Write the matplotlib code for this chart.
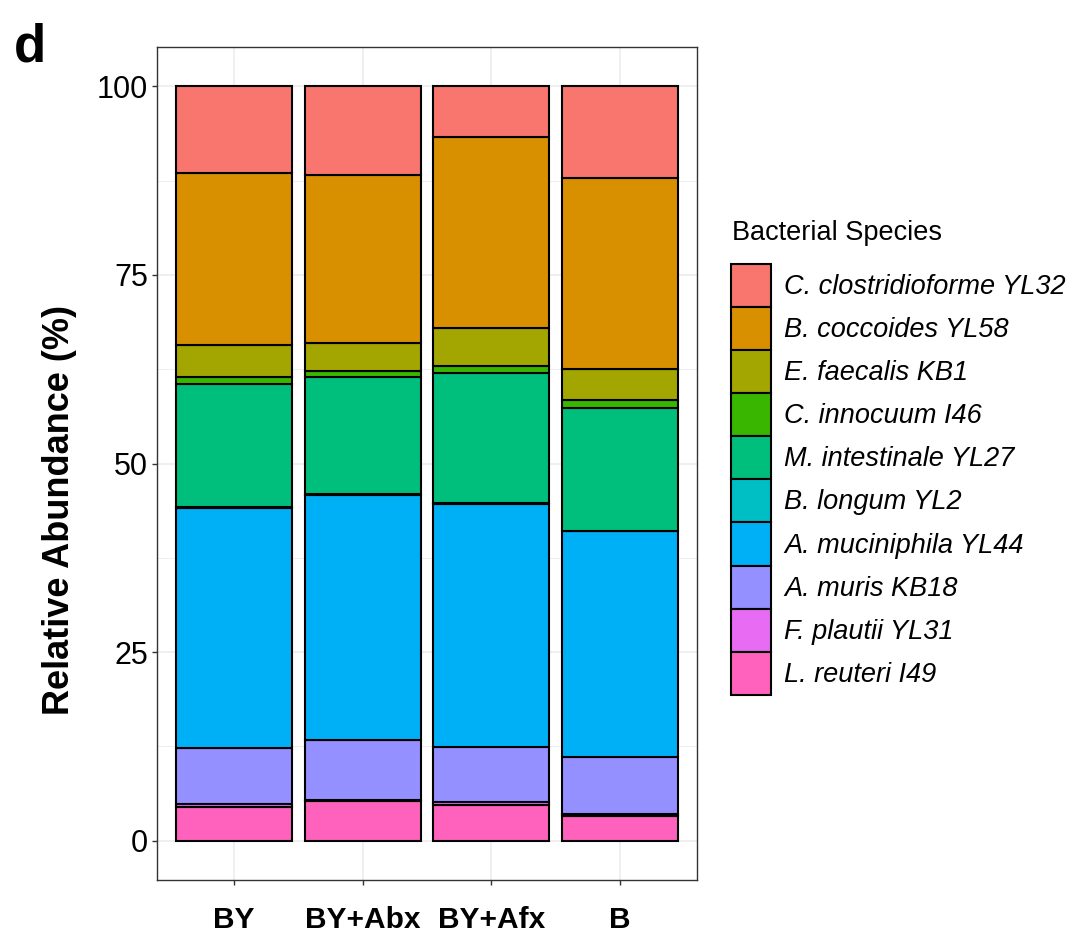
import matplotlib
matplotlib.use("Agg")
import matplotlib.pyplot as plt
import numpy as np
from matplotlib.patches import Patch

plt.rcParams["font.family"] = ["Liberation Sans", "DejaVu Sans"]

# --- dati (abbondanza relativa %) ---
groups = ["BY", "BY+Abx", "BY+Afx", "B"]
# specie dal basso verso l'alto nella pila
species = [
    "L. reuteri I49",
    "F. plautii YL31",
    "A. muris KB18",
    "A. muciniphila YL44",
    "B. longum YL2",
    "M. intestinale YL27",
    "C. innocuum I46",
    "E. faecalis KB1",
    "B. coccoides YL58",
    "C. clostridioforme YL32",
]
l_reuteri = [4.5, 5.3, 4.7, 3.3]
f_plautii = [0.4, 0.1, 0.4, 0.2]
a_muris = [7.4, 8.0, 7.3, 7.6]
a_muciniphila = [31.8, 32.4, 32.2, 29.9]
b_longum = [0.1, 0.1, 0.1, 0.1]
m_intestinale = [16.4, 15.6, 17.3, 16.2]
c_innocuum = [0.9, 0.8, 0.9, 1.1]
e_faecalis = [4.2, 3.7, 5.1, 4.1]
b_coccoides = [22.8, 22.2, 25.3, 25.3]
c_clostridioforme = [11.5, 11.8, 6.7, 12.2]

colors = ["#FF62BC", "#E76BF3", "#9590FF", "#00B0F6", "#00BFC4",
          "#00BF7D", "#39B600", "#A3A500", "#D89000", "#F8766D"]

values = [l_reuteri, f_plautii, a_muris, a_muciniphila, b_longum,
          m_intestinale, c_innocuum, e_faecalis, b_coccoides, c_clostridioforme]

fig = plt.figure(figsize=(10.82, 9.33), dpi=100)
ax = fig.add_axes([157 / 1082, 53 / 933, 540 / 1082, 833 / 933])

x = np.arange(len(groups))
bottom = np.zeros(len(groups))
for name, vals, col in zip(species, values, colors):
    vals = np.asarray(vals, dtype=float)
    ax.bar(x, vals, width=0.9, bottom=bottom, color=col,
           edgecolor="black", linewidth=1.5, zorder=3)
    bottom += vals

ax.set_xlim(-0.6, len(groups) - 0.4)
ax.set_ylim(-5.2, 105.2)
ax.set_yticks([0, 25, 50, 75, 100])
ax.set_yticks([12.5, 37.5, 62.5, 87.5], minor=True)
ax.set_xticks(x, groups)
ax.grid(which="major", color="#EBEBEB", linewidth=1.1, zorder=0)
ax.grid(which="minor", axis="y", color="#EBEBEB", linewidth=0.6, zorder=0)
ax.tick_params(axis="both", which="major", length=3.8, width=1, color="#333333",
               labelcolor="black")
ax.tick_params(axis="y", labelsize=22, pad=2.5)
ax.tick_params(axis="x", labelsize=21.5, pad=15)
ax.tick_params(which="minor", length=0)
for lab in ax.get_xticklabels():
    lab.set_fontweight("bold")
for sp in ax.spines.values():
    sp.set_color("#333333")
    sp.set_linewidth(1.0)
ax.set_ylabel("Relative Abundance (%)", fontsize=26, fontweight="bold")
ax.yaxis.set_label_coords(-0.148, (880 - 510) / 833)

# legenda: titolo come testo separato per controllare lo spazio
fig.text(732 / 1082, 1 - 233 / 933, "Bacterial Species", fontsize=19.5,
         va="center", ha="left")
handles = [Patch(facecolor=c, edgecolor="black", linewidth=1.5)
           for c in colors[::-1]]
leg = fig.legend(handles, species[::-1], loc="upper left",
                 bbox_to_anchor=(731 / 1082, 1 - 264 / 933),
                 frameon=False, prop={"size": 19.5, "style": "italic"},
                 handlelength=1.48, handleheight=2.07, labelspacing=0.0,
                 handletextpad=0.48, borderpad=0, borderaxespad=0)

fig.text(14 / 1082, 1 - 22 / 933, "d", fontsize=38, fontweight="bold", va="top")

fig.savefig("out.png", dpi=100)
